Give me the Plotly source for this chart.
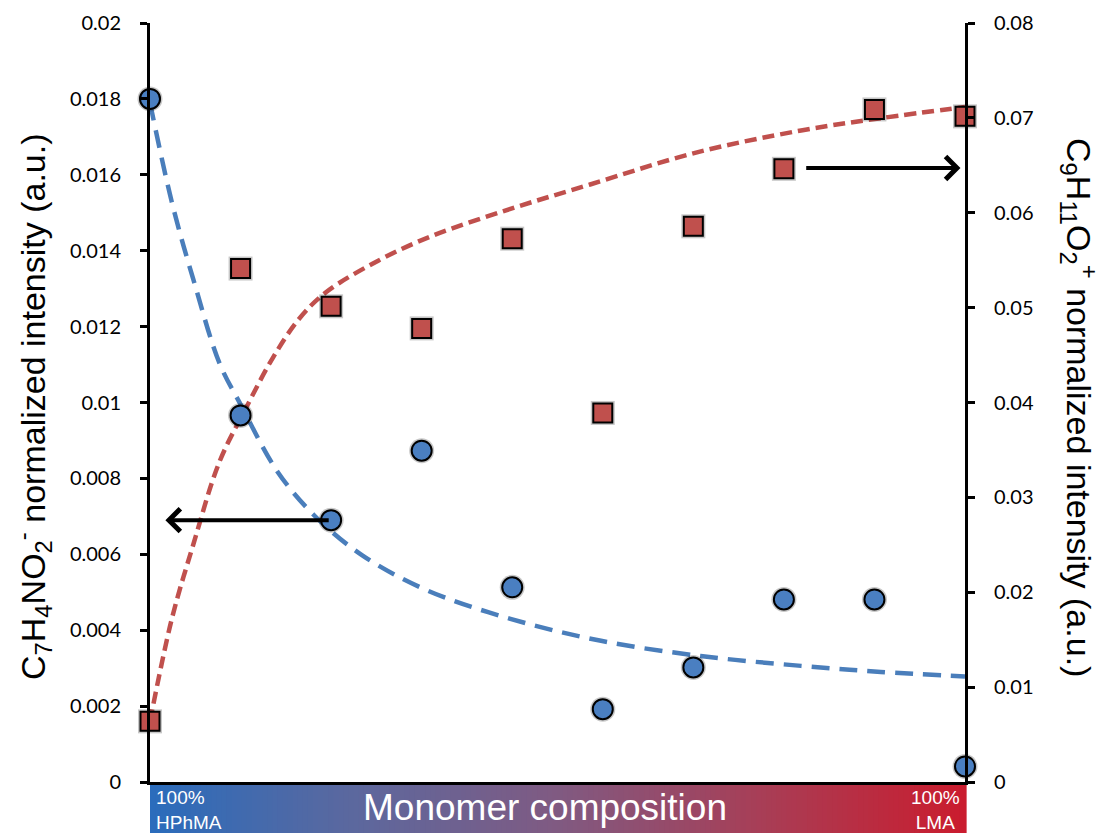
import plotly.graph_objects as go

# ---------------- data ----------------
composition_idx = [0, 1, 2, 3, 4, 5, 6, 7, 8, 9]

# C7H4NO2- (left axis, blue circles)
c7_values = [0.0180, 0.00966, 0.00690, 0.00873, 0.00513, 0.00192, 0.00302, 0.00481, 0.00481, 0.00041]
# C9H11O2+ (right axis, red squares)
c9_values = [0.00639, 0.05412, 0.05014, 0.04781, 0.05727, 0.03890, 0.05857, 0.06463, 0.07089, 0.07016]

# dashed trend curves
c7_fit_x = [0, 0.24, 0.48, 0.77, 1.0, 1.41, 1.82, 2.34, 3.05, 3.98, 4.98, 6.08, 7.19, 8.07, 9.0]
c7_fit_y = [0.0179, 0.01529, 0.01323, 0.01102, 0.00995, 0.00817, 0.00701, 0.00598, 0.00506,
            0.00430, 0.00372, 0.00332, 0.00306, 0.00290, 0.00278]
c9_fit_x = [0, 0.24, 0.475, 0.766, 1.06, 1.35, 1.64, 1.94, 2.52, 3.11, 3.98, 4.86, 6.03, 7.19, 8.07, 9.0]
c9_fit_y = [0.0064, 0.01716, 0.02493, 0.03373, 0.03942, 0.04460, 0.04874, 0.05159, 0.05495,
            0.05754, 0.06040, 0.06298, 0.06634, 0.06867, 0.06997, 0.07115]

left_tickvals = [0, 0.002, 0.004, 0.006, 0.008, 0.01, 0.012, 0.014, 0.016, 0.018, 0.02]
left_ticktext = ["0", "0.002", "0.004", "0.006", "0.008", "0.01", "0.012", "0.014", "0.016", "0.018", "0.02"]
right_tickvals = [0, 0.01, 0.02, 0.03, 0.04, 0.05, 0.06, 0.07, 0.08]
right_ticktext = ["0", "0.01", "0.02", "0.03", "0.04", "0.05", "0.06", "0.07", "0.08"]

left_title = "C<sub>7</sub>H<sub>4</sub>NO<sub>2</sub><sup>-</sup> normalized intensity (a.u.)"
right_title = "C<sub>9</sub>H<sub>11</sub>O<sub>2</sub><sup>+</sup> normalized intensity (a.u.)"
bar_title = "Monomer composition"
left_end_label = "100%<br>HPhMA"
right_end_label = "100%<br>LMA"

# arrows: (tail x, head x, y on left axis)
arrow_left = (1.99, 0.17, 0.0069)
arrow_right = (7.23, 8.95, 0.01618)

# ---------------- style ----------------
BLUE_LINE = "#4a7ebb"
BLUE_MK = "#4a7fc1"
RED = "#c0504d"
TICK_FONT = dict(family="Lato, Open Sans, sans-serif", size=20, color="black")
TITLE_FONT = dict(family="Liberation Sans, Arial, sans-serif", size=34, color="black")

W, H = 1103, 833
L, R, T, B = 150, 138, 23, 51
PW, PH = W - L - R, H - T - B

fig = go.Figure()

fig.add_trace(go.Scatter(x=c7_fit_x, y=c7_fit_y, mode="lines", yaxis="y",
                         line=dict(color=BLUE_LINE, width=4.5, dash="18px,10px", shape="spline"),
                         hoverinfo="skip", showlegend=False, cliponaxis=False))
fig.add_trace(go.Scatter(x=c9_fit_x, y=c9_fit_y, mode="lines", yaxis="y2",
                         line=dict(color=RED, width=4.5, dash="12px,6px", shape="spline"),
                         hoverinfo="skip", showlegend=False, cliponaxis=False))
# shadows
fig.add_trace(go.Scatter(x=composition_idx, y=c9_values, mode="markers", yaxis="y2",
                         marker=dict(symbol="square", size=24, color="rgba(0,0,0,0.22)",
                                     line=dict(width=0)),
                         hoverinfo="skip", showlegend=False, cliponaxis=False))
fig.add_trace(go.Scatter(x=composition_idx, y=c9_values, mode="markers", yaxis="y2",
                         marker=dict(symbol="square", size=19, color=RED,
                                     line=dict(color="black", width=2)),
                         showlegend=False, cliponaxis=False))
fig.add_trace(go.Scatter(x=composition_idx, y=c7_values, mode="markers", yaxis="y3",
                         marker=dict(symbol="circle", size=25, color="rgba(0,0,0,0.22)",
                                     line=dict(width=0)),
                         hoverinfo="skip", showlegend=False, cliponaxis=False))
fig.add_trace(go.Scatter(x=composition_idx, y=c7_values, mode="markers", yaxis="y3",
                         marker=dict(symbol="circle", size=20, color=BLUE_MK,
                                     line=dict(color="black", width=2)),
                         showlegend=False, cliponaxis=False))

axis_common = dict(showline=True, linecolor="black", linewidth=3, ticks="outside",
                   ticklen=7, tickwidth=3, tickcolor="black", showgrid=False,
                   zeroline=False, tickfont=TICK_FONT, ticklabelstandoff=15)

fig.update_layout(
    width=W, height=H,
    margin=dict(l=L, r=R, t=T, b=B, pad=0, autoexpand=False),
    paper_bgcolor="white", plot_bgcolor="white",
    showlegend=False,
    xaxis=dict(range=[0, 9], showline=True, linecolor="black", linewidth=3,
               showticklabels=False, ticks="", showgrid=False, zeroline=False),
    yaxis=dict(range=[0, 0.02], tickvals=left_tickvals, ticktext=left_ticktext,
               side="left", **axis_common),
    yaxis2=dict(range=[0, 0.08], tickvals=right_tickvals, ticktext=right_ticktext,
                side="right", overlaying="y", **axis_common),
    yaxis3=dict(range=[0, 0.02], overlaying="y", visible=False),
)

# gradient bar under the x axis
stops = [(0.0, (42, 108, 188)), (0.25, (92, 104, 158)), (0.5, (128, 90, 130)),
         (0.75, (168, 62, 86)), (1.0, (202, 28, 46))]


def col(t):
    for (t0, c0), (t1, c1) in zip(stops[:-1], stops[1:]):
        if t0 <= t <= t1:
            f = (t - t0) / (t1 - t0)
            return "rgb(%d,%d,%d)" % tuple(round(a + (b - a) * f) for a, b in zip(c0, c1))
    return "rgb(%d,%d,%d)" % stops[-1][1]


N = 160
shapes = []
for i in range(N):
    t = (i + 0.5) / N
    shapes.append(dict(type="rect", xref="paper", yref="paper",
                       x0=i / N, x1=(i + 1) / N + 0.002, y0=-B / PH - 0.01, y1=-1.5 / PH,
                       fillcolor=col(t), line=dict(width=0), layer="below"))
fig.update_layout(shapes=shapes)

annotations = [
    dict(text=bar_title, xref="paper", yref="paper", x=(545 - L) / PW, y=-(807 - (T + PH)) / PH,
         showarrow=False, font=dict(family="Liberation Sans, Arial, sans-serif", size=37, color="white"),
         xanchor="center", yanchor="middle"),
    dict(text=left_end_label, xref="paper", yref="paper", x=(154 - L) / PW, y=-(810 - (T + PH)) / PH,
         showarrow=False, align="left",
         font=dict(family="Liberation Sans, Arial, sans-serif", size=19, color="white"),
         xanchor="left", yanchor="middle"),
    dict(text=right_end_label, xref="paper", yref="paper", x=(962 - L) / PW, y=-(810 - (T + PH)) / PH,
         showarrow=False, align="center",
         font=dict(family="Liberation Sans, Arial, sans-serif", size=19, color="white"),
         xanchor="right", yanchor="middle"),
    dict(text=left_title, xref="paper", yref="paper", x=(33 - L) / PW, y=(T + PH - 407) / PH,
         showarrow=False, textangle=-90, font=TITLE_FONT, xanchor="center", yanchor="middle"),
    dict(text=right_title, xref="paper", yref="paper", x=(1079 - L) / PW, y=(T + PH - 407) / PH,
         showarrow=False, textangle=90, font=TITLE_FONT, xanchor="center", yanchor="middle"),
]
for tail_x, head_x, yv in (arrow_left, arrow_right):
    annotations.append(dict(text="", x=head_x, y=yv, xref="x", yref="y",
                            ax=tail_x, ay=yv, axref="x", ayref="y",
                            showarrow=True, arrowhead=4, arrowsize=1.1, arrowwidth=4,
                            arrowcolor="black"))
fig.update_layout(annotations=annotations)

fig.write_html("out.html", config={"displayModeBar": False},
               post_script="document.body.style.margin='0';document.body.style.padding='0';"
                           "document.documentElement.style.overflow='hidden';")
